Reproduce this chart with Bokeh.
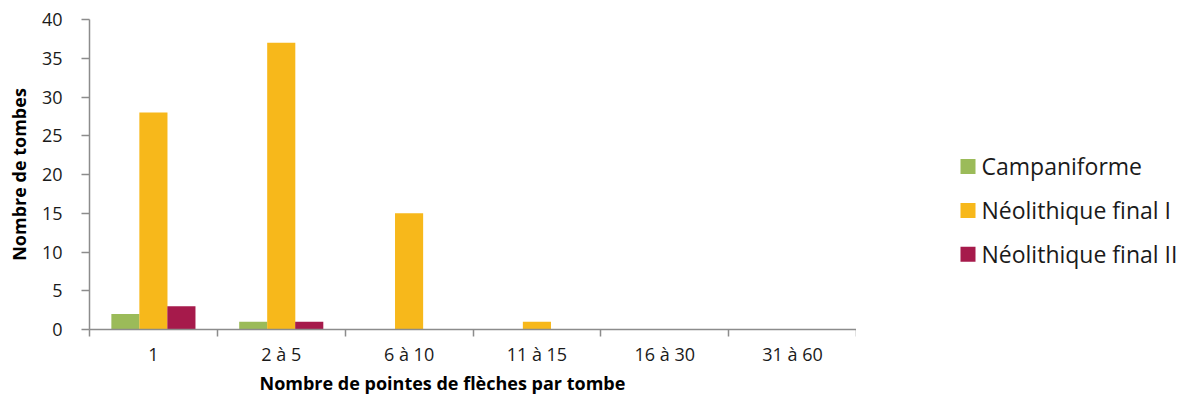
import numpy as np
from bokeh.plotting import figure
from bokeh.layouts import row
from bokeh.models import (ColumnDataSource, Range1d, FixedTicker, Title)
from bokeh.core.properties import value
from bokeh.transform import dodge
from bokeh.embed import file_html
from bokeh.resources import INLINE

# ---- data ----
categories = ["1", "2 à 5", "6 à 10", "11 à 15", "16 à 30", "31 à 60"]
campaniforme = [2, 1, 0, 0, 0, 0]
neo_final_1 = [28, 37, 15, 1, 0, 0]
neo_final_2 = [3, 1, 0, 0, 0, 0]
series_names = ["Campaniforme", "Néolithique final I", "Néolithique final II"]
y_ticks = [0, 5, 10, 15, 20, 25, 30, 35, 40]

colors = ["#9BBB59", "#F7B81B", "#A61A4B"]
FONT = "Open Sans"

n = len(categories)
centers = list(np.arange(n) + 0.5)
source = ColumnDataSource(data=dict(x=centers, s0=campaniforme, s1=neo_final_1, s2=neo_final_2))

yr = Range1d(0, 40)
p = figure(frame_width=767, frame_height=310, output_backend="svg", toolbar_location=None,
           x_range=Range1d(0, n), y_range=yr,
           min_border_left=89, min_border_right=0, min_border_top=19, min_border_bottom=0)
p.outline_line_color = None
p.xgrid.visible = False
p.ygrid.visible = False
p.background_fill_color = "white"
p.border_fill_color = "white"

bw = 0.22
offsets = [-0.219, 0.0, 0.219]
for i, (col, c) in enumerate(zip(["s0", "s1", "s2"], colors)):
    p.vbar(x=dodge("x", offsets[i], range=p.x_range), top=col, width=bw,
           source=source, fill_color=c, line_color=None)

axis_color = "#8C8C8C"
# x axis
xa = p.xaxis[0]
xa.ticker = FixedTicker(ticks=centers, minor_ticks=list(range(n + 1)))
xa.major_label_overrides = {float(cx): lab for cx, lab in zip(centers, categories)}
xa.major_tick_out = 0
xa.major_tick_in = 0
xa.minor_tick_out = 7
xa.minor_tick_in = 0
xa.minor_tick_line_color = axis_color
xa.minor_tick_line_width = 1.5
xa.axis_line_color = axis_color
xa.axis_line_width = 1.5
xa.major_label_text_font = FONT
xa.major_label_text_font_size = "18px"
xa.major_label_text_color = "#1a1a1a"
xa.major_label_standoff = 5

# y axis
ya = p.yaxis[0]
ya.ticker = FixedTicker(ticks=y_ticks)
ya.minor_tick_line_color = None
ya.major_tick_out = 8
ya.major_tick_in = 0
ya.major_tick_line_color = axis_color
ya.major_tick_line_width = 1.5
ya.axis_line_color = axis_color
ya.axis_line_width = 1.5
ya.major_label_text_font = FONT
ya.major_label_text_font_size = "18px"
ya.major_label_text_color = "#1a1a1a"
ya.major_label_standoff = 19
ya.axis_label = "Nombre de tombes"
ya.axis_label_text_font = FONT
ya.axis_label_text_font_style = "bold"
ya.axis_label_text_font_size = "18px"
ya.axis_label_text_color = "#000000"
ya.axis_label_standoff = 8

xtitle = Title(text="Nombre de pointes de flèches par tombe", align="left", offset=170,
               text_font=FONT, text_font_style="bold", text_font_size="18px",
               text_color="#000000", standoff=0)
p.add_layout(xtitle, "below")

# legend panel: separate figure at the right; its frame is aligned with the
# main frame in the row, so it shares the y range (legend rows in y units)
LW = 326
p2 = figure(width=LW, height=387, output_backend="svg", toolbar_location=None,
            x_range=Range1d(0, LW), y_range=yr,
            x_axis_location=None, y_axis_location=None,
            min_border_left=0, min_border_right=0, min_border_top=0, min_border_bottom=0)
p2.xgrid.visible = False
p2.ygrid.visible = False
p2.outline_line_color = None
p2.background_fill_color = "white"
p2.border_fill_color = "white"

leg_x0 = 104        # swatch left, px from panel left
leg_y0 = 20.6       # first entry centre, in y-axis units
leg_pitch = 5.8
sw = 15
leg_y = [leg_y0 - k * leg_pitch for k in range(len(series_names))]
leg_src = ColumnDataSource(data=dict(y=leg_y, name=series_names, color=colors))
p2.rect(x=leg_x0 + sw / 2, y="y", width=sw, height=sw, height_units="screen",
        fill_color="color", line_color=None, source=leg_src)
p2.text(x=leg_x0 + sw + 6, y="y", text="name", source=leg_src,
        text_font=value(FONT), text_font_size=value("23px"), text_color="#1a1a1a",
        text_baseline="middle", text_align="left")

layout = row(p, p2)
open("out.html", "w").write(file_html(layout, INLINE))
